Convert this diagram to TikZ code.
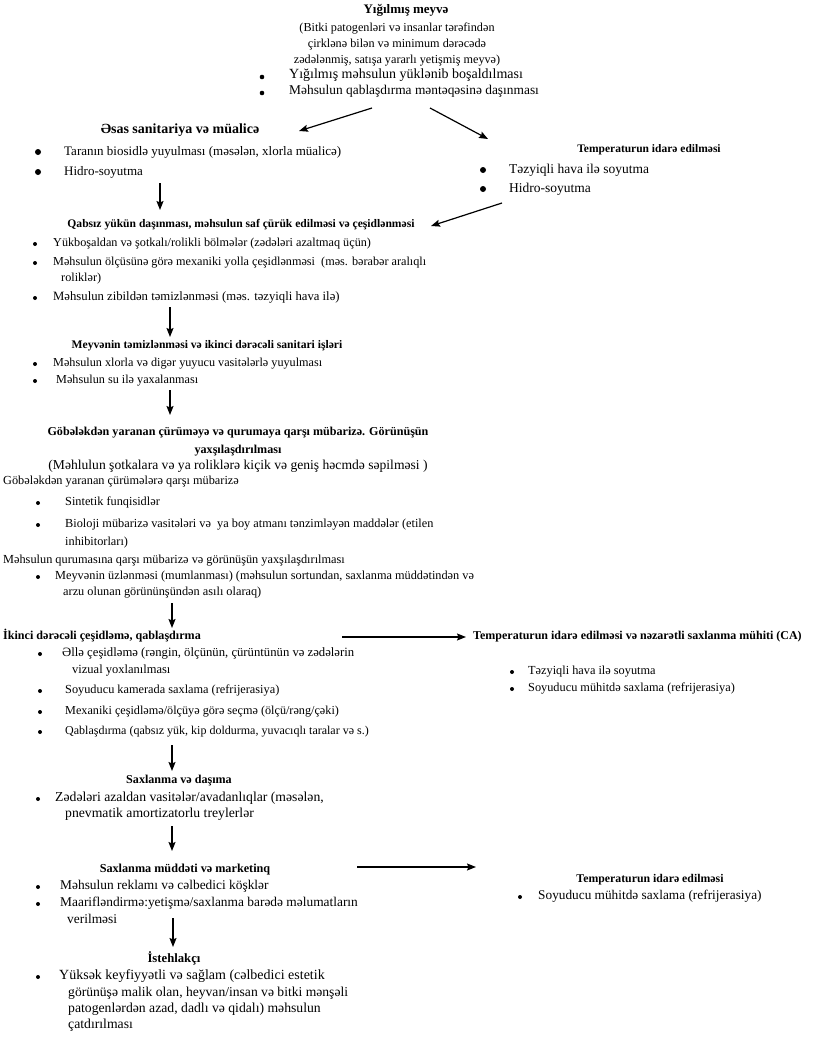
\documentclass[tikz,border=0pt]{standalone}
\usepackage{fontspec}
\setmainfont{Liberation Serif}
\usetikzlibrary{arrows.meta}
\newcommand\fsz[1]{\fontsize{#1}{#1}\selectfont}
\tikzset{
  tx/.style={inner sep=0pt,anchor=mid west,font=\fsz{#1}},
  tx/.default=12,
  ttl/.style={inner sep=0pt,anchor=mid,font=\bfseries\fsz{#1}},
  ttl/.default=11.6,
  ttlw/.style={inner sep=0pt,anchor=mid west,font=\bfseries\fsz{#1}},
  ttlw/.default=11.9,
  pr/.style={inner sep=0pt,anchor=mid,font=\fsz{#1}},
  pr/.default=12.2,
  bul/.style={circle,fill=black,inner sep=0pt,minimum size=#1},
  bul/.default=4pt,
  arr/.style={line width=1.2pt,-{Stealth[length=9pt,width=7pt,inset=1.5pt]}},
}
\newcommand\myline[5][tx]{\node[#1] (#2) at (#3,#4) {#5};}
\newcommand\mybul[4][bul]{\node[#1] (#2) at (#3,#4) {};}
\begin{document}
\begin{tikzpicture}[x=1pt,y=-1pt]
\useasboundingbox (0,0) rectangle (813,1038);
% ---- block 0
\node[ttl=13] (t0) at (406,11) {Yığılmış meyvə};
\node[pr] (t0a) at (397,29) {(Bitki patogenləri və insanlar tərəfindən};
\node[pr] (t0b) at (397,45) {çirklənə bilən və minimum dərəcədə};
\node[pr] (t0c) at (397,61) {zədələnmiş, satışa yararlı yetişmiş meyvə)};
\mybul[bul=4.6pt]{b0a}{262}{77}\myline[tx=14]{l0a}{289}{76}{Yığılmış məhsulun yüklənib boşaldılması}
\mybul[bul=4.6pt]{b0b}{262}{93}\myline[tx=13.4]{l0b}{289}{92}{Məhsulun qablaşdırma məntəqəsinə daşınması}
% ---- block 1 (left)
\node[ttl=14] (t1) at (180,131) {Əsas sanitariya və müalicə};
\mybul[bul=6pt]{b1a}{38}{152}\myline[tx=13]{l1a}{64}{153}{Taranın biosidlə yuyulması (məsələn, xlorla müalicə)}
\mybul[bul=6pt]{b1b}{38}{172}\myline[tx=13]{l1b}{64}{173}{Hidro-soyutma}
% ---- block 2 (right)
\node[ttl=11.5] (t2) at (649,150) {Temperaturun idarə edilməsi};
\mybul[bul=6pt]{b2a}{483}{170}\myline[tx=13.5]{l2a}{509}{171}{Təzyiqli hava ilə soyutma}
\mybul[bul=6pt]{b2b}{483}{189}\myline[tx=13.5]{l2b}{509}{190}{Hidro-soyutma}
% ---- block 3
\node[ttl] (t3) at (241,225) {Qabsız yükün daşınması, məhsulun saf çürük edilməsi və çeşidlənməsi};
\mybul{b3a}{35}{244}\myline[tx=12.2]{l3a}{53}{244}{Yükboşaldan və şotkalı/rolikli bölmələr (zədələri azaltmaq üçün)}
\mybul{b3b}{35}{263}\myline[tx=12.2]{l3b}{53}{263}{Məhsulun ölçüsünə görə mexaniki yolla çeşidlənməsi\ \ (məs. bərabər aralıqlı}
\myline[tx=12.2]{l3c}{61}{279}{roliklər)}
\mybul{b3d}{35}{298}\myline[tx=12.7]{l3d}{53}{298}{Məhsulun zibildən təmizlənməsi (məs. təzyiqli hava ilə)}
% ---- block 4
\node[ttl] (t4) at (207,346) {Meyvənin təmizlənməsi və ikinci dərəcəli sanitari işləri};
\mybul{b4a}{35}{364}\myline[tx=12.2]{l4a}{53}{364}{Məhsulun xlorla və digər yuyucu vasitələrlə yuyulması}
\mybul{b4b}{35}{381}\myline[tx=12.2]{l4b}{56}{381}{Məhsulun su ilə yaxalanması}
% ---- block 5
\node[ttl=12.1] (t5) at (238,433) {Göbələkdən yaranan çürüməyə və qurumaya qarşı mübarizə. Görünüşün};
\node[ttl=12.1] (t5b) at (238,451) {yaxşılaşdırılması};
\node[pr=13.6] (t5c) at (238,467) {(Məhlulun şotkalara və ya roliklərə kiçik və geniş həcmdə səpilməsi )};
\myline[tx=12.3]{l5a}{3}{482}{Göbələkdən yaranan çürümələrə qarşı mübarizə}
\mybul{b5b}{38}{503}\myline[tx=12.3]{l5b}{65}{503}{Sintetik funqisidlər}
\mybul{b5c}{38}{525}\myline[tx=12.3]{l5c}{65}{525}{Bioloji mübarizə vasitələri və\ \ ya boy atmanı tənzimləyən maddələr (etilen}
\myline[tx=12.3]{l5d}{65}{543}{inhibitorları)}
\myline[tx=12.3]{l5e}{3}{561}{Məhsulun qurumasına qarşı mübarizə və görünüşün yaxşılaşdırılması}
\mybul{b5f}{38}{577}\myline[tx=12.3]{l5f}{55}{577}{Meyvənin üzlənməsi (mumlanması) (məhsulun sortundan, saxlanma müddətindən və}
\myline[tx=12.3]{l5g}{63}{593}{arzu olunan görününşündən asılı olaraq)}
% ---- block 6
\node[ttlw=12.1] (t6) at (3,637) {İkinci dərəcəli çeşidləmə, qablaşdırma};
\mybul{b6a}{40}{654}\myline[tx=12.7]{l6a}{62}{654}{Əllə çeşidləmə (rəngin, ölçünün, çürüntünün və zədələrin}
\myline[tx=12.5]{l6b}{72}{671}{vizual yoxlanılması}
\mybul{b6c}{40}{691}\myline[tx=12.3]{l6c}{65}{691}{Soyuducu kamerada saxlama (refrijerasiya)}
\mybul{b6d}{40}{712}\myline[tx=12.2]{l6d}{65}{712}{Mexaniki çeşidləmə/ölçüyə görə seçmə (ölçü/rəng/çəki)}
\mybul{b6e}{40}{732}\myline[tx=12.0]{l6e}{65}{732}{Qablaşdırma (qabsız yük, kip doldurma, yuvacıqlı taralar və s.)}
% ---- block 7 (right)
\node[ttlw=12] (t7) at (473,637) {Temperaturun idarə edilməsi və nəzarətli saxlanma mühiti (CA)};
\mybul{b7a}{512}{672}\myline[tx=12.3]{l7a}{528}{672}{Təzyiqli hava ilə soyutma}
\mybul{b7b}{512}{689}\myline[tx=12.3]{l7b}{528}{689}{Soyuducu mühitdə saxlama (refrijerasiya)}
% ---- block 8
\node[ttl=12.1] (t8) at (179,781) {Saxlanma və daşıma};
\mybul{b8a}{38}{799}\myline[tx=13.7]{l8a}{55}{799}{Zədələri azaldan vasitələr/avadanlıqlar (məsələn,}
\myline[tx=13.7]{l8b}{65}{815}{pnevmatik amortizatorlu treylerlər}
% ---- block 9
\node[ttl=12.2] (t9) at (185,870) {Saxlanma müddəti və marketinq};
\mybul{b9a}{38}{887}\myline[tx=13.4]{l9a}{60}{887}{Məhsulun reklamı və cəlbedici köşklər}
\mybul{b9b}{38}{904}\myline[tx=13.4]{l9b}{60}{904}{Maarifləndirmə:yetişmə/saxlanma barədə məlumatların}
\myline[tx=13.4]{l9c}{67}{921}{verilməsi}
% ---- block 10 (right)
\node[ttl=11.8] (t10) at (650,880) {Temperaturun idarə edilməsi};
\mybul{b10a}{520}{897}\myline[tx=13.3]{l10a}{538}{897}{Soyuducu mühitdə saxlama (refrijerasiya)}
% ---- block 11
\node[ttl=12.7] (t11) at (174,960) {İstehlakçı};
\mybul{b11a}{38}{977}\myline[tx=14]{l11a}{59}{977}{Yüksək keyfiyyətli və sağlam (cəlbedici estetik}
\myline[tx=13.6]{l11b}{68}{994}{görünüşə malik olan, heyvan/insan və bitki mənşəli}
\myline[tx=13.7]{l11c}{68}{1010}{patogenlərdən azad, dadlı və qidalı) məhsulun}
\myline[tx=13.7]{l11d}{68}{1026}{çatdırılması}
% ---- connector end points
\coordinate (a1s) at (372,108); \coordinate (a1e) at (299,131);
\coordinate (a2s) at (430,108); \coordinate (a2e) at (488,139);
\coordinate (a3s) at (160,183); \coordinate (a3e) at (160,210);
\coordinate (a4s) at (502,203); \coordinate (a4e) at (431,226);
\coordinate (a5s) at (170,307); \coordinate (a5e) at (170,337);
\coordinate (a6s) at (170,390); \coordinate (a6e) at (170,415);
\coordinate (a7s) at (172,603); \coordinate (a7e) at (172,628);
\coordinate (a8s) at (342,637); \coordinate (a8e) at (466,637);
\coordinate (a9s) at (172,745); \coordinate (a9e) at (172,771);
\coordinate (a10s) at (172,826); \coordinate (a10e) at (172,851);
\coordinate (a11s) at (357,867); \coordinate (a11e) at (476,867);
\coordinate (a12s) at (173,918); \coordinate (a12e) at (173,947);
\foreach \i in {1,...,12} {\draw[arr] (a\i s) -- (a\i e);}
\end{tikzpicture}
\end{document}
